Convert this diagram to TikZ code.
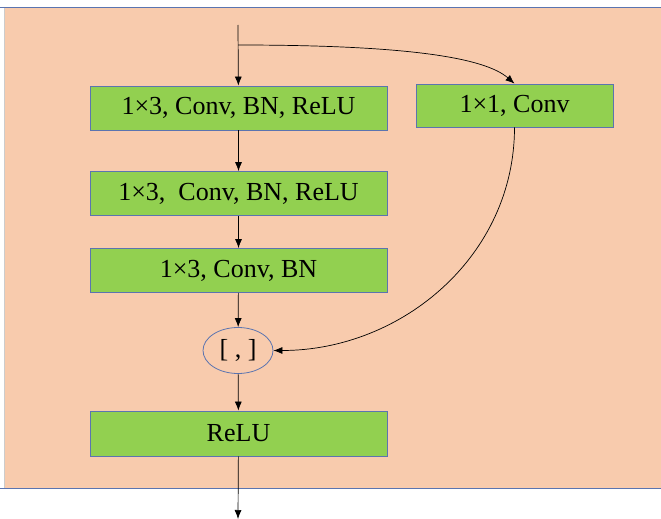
\documentclass[tikz,border=0pt]{standalone}
\usepackage{fontspec}
\setmainfont{Liberation Serif}
\definecolor{peach}{HTML}{F8CBAD}
\definecolor{leaf}{HTML}{92D050}
\definecolor{edge}{HTML}{5B74B0}
\usetikzlibrary{shapes.geometric, arrows.meta}
\tikzset{
	layer/.style={draw=edge, fill=leaf, line width=0.8pt, minimum height=44, inner sep=0pt,
		font=\fontsize{26}{30}\selectfont},
	joiner/.style={draw=edge, ellipse, line width=0.8pt, minimum width=70, minimum height=46, inner sep=0pt,
		font=\fontsize{26}{30}\selectfont},
	flow/.style={-{Latex[length=9pt, width=7pt]}, line width=0.7pt}
}
\begin{document}
\begin{tikzpicture}[x=1pt, y=-1pt]
	\useasboundingbox (0, 0) rectangle (661, 519);
	\fill[peach] (4, 7) rectangle (661, 488);
	\draw[gray!40, line width=0.5pt] (4, 7) -- (4, 488);
	\draw[edge, line width=0.8pt] (0, 7) -- (661, 7);
	\draw[edge, line width=0.8pt] (0, 488) -- (661, 488);

	\coordinate(in) at (238, 25);
	\coordinate(br) at (238, 45);
	\coordinate(out) at (238, 519);
	\node[layer, minimum width=297](b1) at (238.5, 108){1×3, Conv, BN, ReLU};
	\node[layer, minimum width=197, minimum height=43](b4) at (514.5, 105.5){1×1, Conv};
	\node[layer, minimum width=297](b2) at (238.5, 193.5){1×3,\ \ Conv, BN, ReLU};
	\node[layer, minimum width=297](b3) at (238.5, 270.5){1×3, Conv, BN};
	\node[joiner](cat) at (238, 350.5){[ , ]};
	\node[layer, minimum width=297, minimum height=45](relu) at (238.5, 433.5){ReLU};

	\draw[flow] (in) -- (b1);
	\draw[flow] (br) .. controls (410, 45) and (485, 58) .. (b4.north);
	\draw[flow] (b1) -- (b2);
	\draw[flow] (b2) -- (b3);
	\draw[flow] (b3) -- (cat);
	\draw[flow] (b4.south) to[out=-90, in=0] (cat.east);
	\draw[flow] (cat) -- (relu);
	\draw[flow] (relu) -- (out);
\end{tikzpicture}
\end{document}
